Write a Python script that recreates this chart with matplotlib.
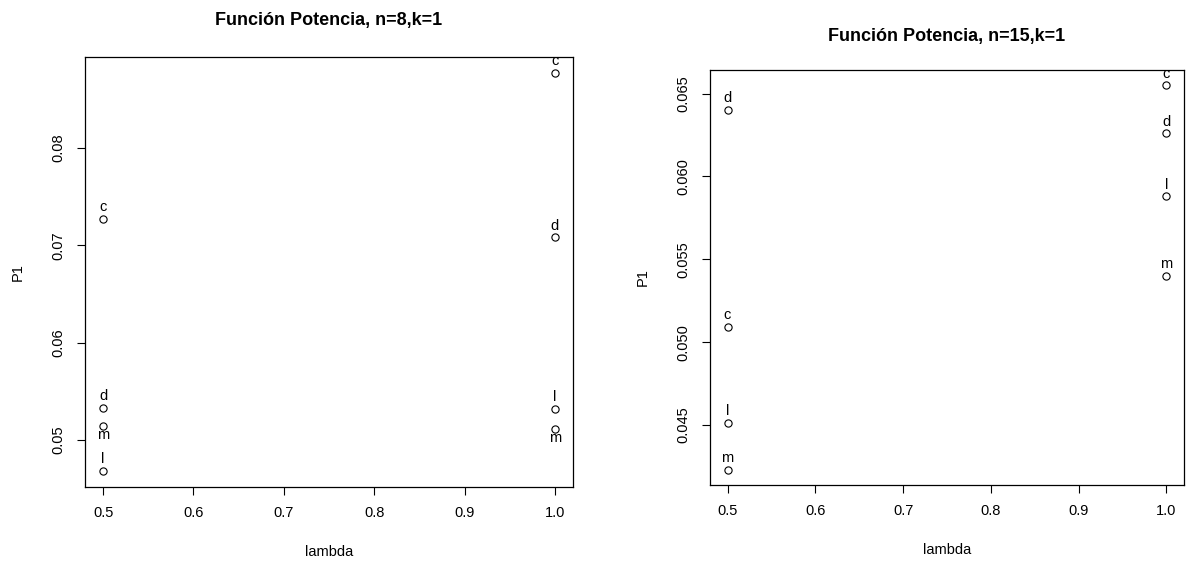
import matplotlib
matplotlib.use('Agg')
import matplotlib.pyplot as plt
import numpy as np

plt.rcParams['font.family'] = ['Liberation Sans', 'DejaVu Sans']

# data
lam = [0.5, 0.5, 0.5, 0.5, 1.0, 1.0, 1.0, 1.0]
labs = ['c', 'd', 'm', 'l', 'c', 'd', 'l', 'm']
p1_n8 = [0.0727, 0.0533, 0.0514, 0.0468, 0.0877, 0.0708, 0.0532, 0.0511]
p1_n15 = [0.0509, 0.0640, 0.0423, 0.0451, 0.0655, 0.0626, 0.0588, 0.0540]
# where the letter sits: 1 above, -1 below
pos_n8 = [1, 1, -1, 1, 1, 1, 1, -1]
pos_n15 = [1, 1, 1, 1, 1, 1, 1, 1]
ticks_n8 = [0.05, 0.06, 0.07, 0.08]
ticks_n15 = [0.045, 0.050, 0.055, 0.060, 0.065]
xticks = [0.5, 0.6, 0.7, 0.8, 0.9, 1.0]

W, H = 1188, 562
fig = plt.figure(figsize=(W/100, H/100), dpi=100)

def rplot(rect, y, pos, yt, ytl, title, title_y):
    ax = fig.add_axes(rect)
    ax.plot(lam, y, 'o', mfc='none', mec='black', ms=5.2, mew=0.8)
    for xi, yi, s, p in zip(lam, y, labs, pos):
        ax.annotate(s, (xi, yi), xytext=(0, 8.5*p if p > 0 else -6.5),
                    textcoords='offset points',
                    ha='center', va='center', fontsize=10.5)
    lo, hi = min(y), max(y)
    ext = (hi - lo) * 0.04
    ax.set_ylim(lo - ext, hi + ext)
    ax.set_xlim(0.48, 1.02)
    ax.set_xticks(xticks)
    ax.set_xticklabels(['%.1f' % v for v in xticks])
    ax.set_yticks(yt)
    ax.set_yticklabels(ytl, rotation=90, va='center')
    ax.tick_params(direction='out', length=6, width=0.8, labelsize=10.5, pad=8)
    for sp in ax.spines.values():
        sp.set_linewidth(0.9)
    ax.set_xlabel('lambda', fontsize=10.5, labelpad=18)
    ax.set_ylabel('P1', fontsize=10.5, labelpad=19)
    cx = rect[0] + rect[2]/2
    fig.text(cx, 1 - title_y/H, title, ha='center', va='center',
             fontsize=13, fontweight='bold')
    return ax

rplot([85/W, 1-487/H, 488/W, 430/H], p1_n8, pos_n8, ticks_n8,
      ['0.05', '0.06', '0.07', '0.08'], 'Función Potencia, n=8,k=1', 20)
rplot([710/W, 1-485/H, 474/W, 415/H], p1_n15, pos_n15, ticks_n15,
      ['%.3f' % v for v in ticks_n15], 'Función Potencia, n=15,k=1', 37)

plt.savefig('out.png', dpi=100)
